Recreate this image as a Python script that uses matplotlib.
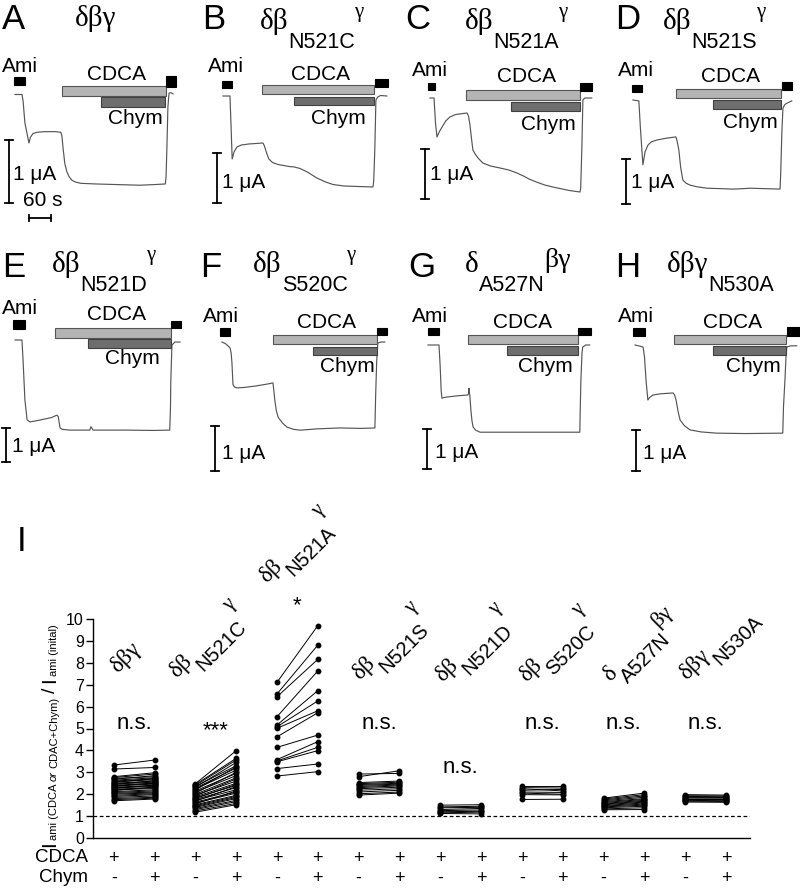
import numpy as np
import matplotlib
matplotlib.use('Agg')
import matplotlib.pyplot as plt
from matplotlib.patches import Rectangle
from matplotlib.transforms import offset_copy
from matplotlib.font_manager import FontProperties

# ---------------- data: current traces (time in s, current in uA rel. to baseline) -------------
trace_A_t = [0, 19, 22, 27, 38, 42, 49, 60, 80, 110, 125, 128, 131, 136, 141, 147, 155, 165, 180, 220, 280, 340, 380, 410, 412, 414, 417, 420, 425, 431]
trace_A_i = [0, 0, -0.10, -0.45, -0.77, -0.68, -0.62, -0.60, -0.59, -0.59, -0.60, -0.66, -0.85, -1.10, -1.22, -1.30, -1.36, -1.39, -1.41, -1.42, -1.43, -1.44, -1.43, -1.42, -1.30, -0.90, -0.20, 0.02, 0.03, 0.01]
trace_B_t = [0, 19, 22, 25, 30, 38, 50, 70, 109, 113, 118, 125, 135, 150, 165, 180, 195, 210, 230, 256, 280, 300, 330, 370, 409, 411, 414, 417, 422, 430, 447]
trace_B_i = [0, 0, -0.6, -1.26, -1.12, -1.02, -0.98, -0.96, -0.94, -1.00, -1.12, -1.26, -1.33, -1.37, -1.39, -1.41, -1.42, -1.45, -1.52, -1.64, -1.72, -1.77, -1.80, -1.81, -1.82, -1.70, -1.08, -0.08, -0.02, 0.01, 0]
trace_C_t = [0, 11, 15, 19, 25, 33, 43, 54, 70, 90, 101, 105, 109, 113, 117, 124, 131, 144, 165, 191, 215, 237, 255, 270, 290, 313, 335, 354, 380, 409, 411, 414, 417, 422, 441]
trace_C_i = [0, 0, -0.5, -0.78, -0.68, -0.58, -0.46, -0.38, -0.33, -0.31, -0.30, -0.36, -0.54, -0.80, -1.04, -1.13, -1.20, -1.30, -1.36, -1.40, -1.44, -1.50, -1.56, -1.62, -1.68, -1.74, -1.78, -1.81, -1.85, -1.88, -1.80, -1.04, -0.04, 0, 0]
trace_D_t = [0, 16, 20, 27, 33, 41, 50, 65, 90, 117, 120, 125, 130, 136, 145, 155, 175, 202, 240, 272, 300, 319, 360, 401, 403, 406, 409, 414, 420, 433]
trace_D_i = [0, -0.02, -0.6, -1.44, -1.15, -1.00, -0.93, -0.89, -0.85, -0.82, -0.90, -1.11, -1.50, -1.78, -1.85, -1.89, -1.93, -1.96, -1.97, -1.98, -1.97, -1.96, -1.97, -1.98, -1.60, -0.70, -0.18, -0.10, -0.07, -0.02]
trace_E_t = [0, 19, 22, 27, 33, 41, 70, 100, 114, 118, 120, 123, 130, 150, 204, 207, 210, 213, 300, 380, 422, 424, 425, 428, 436, 450]
trace_E_i = [0, 0, -0.6, -1.76, -2.35, -2.41, -2.35, -2.28, -2.21, -2.25, -2.40, -2.59, -2.63, -2.65, -2.65, -2.55, -2.60, -2.65, -2.65, -2.66, -2.65, -2.00, -1.18, -0.15, -0.06, -0.06]
trace_F_t = [0, 10, 22, 25, 27, 30, 34, 41, 60, 90, 120, 139, 141, 144, 148, 153, 165, 177, 195, 213, 260, 322, 380, 417, 419, 422, 425, 435, 444]
trace_F_i = [0, -0.04, -0.13, -0.25, -0.45, -0.95, -1.00, -1.02, -1.01, -0.98, -0.94, -0.91, -1.05, -1.29, -1.52, -1.67, -1.80, -1.89, -1.94, -1.96, -1.93, -1.91, -1.92, -1.91, -1.20, -0.40, -0.02, 0, 0]
trace_G_t = [0, 30, 33, 36, 38, 45, 52, 80, 109, 111, 112, 113, 114, 117, 120, 123, 130, 142, 200, 251, 330, 414, 415, 417, 420, 422, 430, 441]
trace_G_i = [0, 0, -0.5, -1.15, -1.33, -1.31, -1.30, -1.27, -1.25, -1.20, -1.08, -1.20, -1.25, -1.63, -1.90, -2.05, -2.13, -2.18, -2.18, -2.18, -2.18, -2.18, -1.70, -0.88, -0.20, -0.05, 0, 0]
trace_H_t = [0, 10, 22, 26, 30, 35, 40, 49, 70, 104, 108, 112, 117, 123, 135, 150, 180, 223, 300, 403, 405, 409, 412, 414, 425, 441]
trace_H_i = [0, -0.02, -0.05, -0.30, -0.85, -1.34, -1.28, -1.22, -1.19, -1.17, -1.22, -1.34, -1.60, -1.83, -1.97, -2.07, -2.12, -2.15, -2.16, -2.15, -1.50, -0.85, -0.25, -0.05, -0.02, -0.02]

# application periods (s): first amiloride, CDCA, chymotrypsin, second amiloride
ami1_s = {'A': (-3, 27), 'B': (-3, 25), 'C': (-5, 14), 'D': (-3, 25), 'E': (-5, 27), 'F': (-5, 22), 'G': (0, 30), 'H': (-5, 27)}
cdca_s = {'A': (128, 411), 'B': (106, 411), 'C': (98, 409), 'D': (117, 403), 'E': (109, 425), 'F': (139, 422), 'G': (109, 409), 'H': (106, 411)}
chym_s = {'A': (234, 409), 'B': (193, 411), 'C': (221, 409), 'D': (218, 403), 'E': (199, 425), 'F': (248, 422), 'G': (215, 409), 'H': (213, 411)}
ami2_s = {'A': (411, 439), 'B': (414, 450), 'C': (409, 441), 'D': (406, 433), 'E': (425, 452), 'F': (422, 450), 'G': (409, 444), 'H': (414, 450)}

# ---------------- data: panel I ----------------
group_names = ['dbg', 'N521C', 'N521A', 'N521S', 'N521D', 'S520C', 'A527N', 'N530A']
g1_cdca = [3.33, 3.15, 2.80, 2.76, 2.72, 2.68, 2.64, 2.60, 2.57, 2.53, 2.50, 2.47, 2.44, 2.41, 2.38, 2.35, 2.32, 2.29, 2.26, 2.23, 2.20, 2.16, 2.12, 2.08, 2.04, 2.00, 1.95, 1.90, 1.85, 1.80, 1.75, 1.70]
g1_chym = [3.56, 3.22, 2.98, 2.92, 2.80, 2.85, 2.75, 2.70, 2.66, 2.72, 2.60, 2.55, 2.62, 2.50, 2.46, 2.52, 2.40, 2.36, 2.42, 2.30, 2.26, 2.33, 2.20, 2.15, 2.10, 2.06, 2.02, 1.98, 1.92, 1.86, 1.82, 1.78]
g2_cdca = [2.48, 2.44, 2.40, 2.36, 2.32, 2.28, 2.24, 2.20, 2.15, 2.10, 2.05, 2.00, 1.96, 1.92, 1.88, 1.84, 1.80, 1.76, 1.72, 1.68, 1.64, 1.60, 1.56, 1.52, 1.48, 1.44, 1.40, 1.35, 1.30, 1.24, 1.18]
g2_chym = [3.99, 3.64, 3.56, 3.30, 3.45, 3.20, 3.10, 3.25, 2.95, 2.85, 3.00, 2.75, 2.60, 2.70, 2.50, 2.40, 2.45, 2.30, 2.20, 2.35, 2.10, 2.05, 2.15, 1.95, 1.90, 1.85, 1.80, 1.72, 1.66, 1.58, 1.52]
g3_cdca = [7.11, 6.58, 6.45, 5.54, 5.16, 5.08, 5.01, 4.62, 4.14, 3.58, 3.52, 3.48, 3.17, 2.83]
g3_chym = [9.70, 8.81, 8.16, 7.63, 6.73, 6.26, 5.81, 5.72, 4.70, 4.40, 4.14, 3.99, 3.38, 3.03]
g4_cdca = [2.92, 2.80, 2.53, 2.48, 2.44, 2.40, 2.35, 2.30, 2.25, 2.18, 2.10, 2.02, 1.96]
g4_chym = [2.95, 3.07, 2.60, 2.55, 2.50, 2.46, 2.42, 2.38, 2.32, 2.25, 2.18, 2.10, 2.05]
g5_cdca = [1.50, 1.42, 1.38, 1.30, 1.25, 1.20, 1.15, 1.12]
g5_chym = [1.52, 1.45, 1.40, 1.35, 1.28, 1.22, 1.18, 1.10]
g6_cdca = [2.38, 2.30, 2.25, 2.18, 2.10, 2.05, 1.98, 1.76]
g6_chym = [2.38, 2.28, 2.15, 2.22, 2.08, 2.00, 1.97, 1.77]
g7_cdca = [1.82, 1.78, 1.74, 1.70, 1.66, 1.62, 1.58, 1.55, 1.52, 1.48, 1.45, 1.42, 1.38, 1.33, 1.29]
g7_chym = [2.05, 1.98, 1.92, 1.86, 1.80, 1.76, 1.72, 1.68, 1.64, 1.60, 1.55, 1.50, 1.45, 1.38, 1.30]
g8_cdca = [1.98, 1.93, 1.90, 1.86, 1.83, 1.80, 1.78, 1.75, 1.72, 1.68, 1.64]
g8_chym = [1.96, 1.92, 1.88, 1.85, 1.82, 1.80, 1.77, 1.74, 1.70, 1.67, 1.63]
significance = ['n.s.', '***', '*', 'n.s.', 'n.s.', 'n.s.', 'n.s.', 'n.s.']
cdca_row = ['+'] * 16
chym_row = ['-', '+'] * 8
yticks_I = list(range(0, 11))

# ---------------- figure ----------------
W_PX, H_PX = 800, 889
fig = plt.figure(figsize=(8, 8.89), dpi=100)
SANS = 'Liberation Sans'
SERIF = 'Liberation Serif'
SX = 22.0 / 60.0  # px per second (time scale common to all traces)
TRACE_C = '#555555'
LBL = 15


def fpos(x, y):
    return x / W_PX, 1 - y / H_PX


def ftext(x, y, s, size=LBL, ha='left', va='center', **kw):
    fx, fy = fpos(x, y)
    fig.text(fx, fy, s, fontsize=size, ha=ha, va=va, family=kw.pop('family', SANS), **kw)


renderer = fig.canvas.get_renderer()


def text_width(s, fp):
    t = fig.text(0, 0, s, fontproperties=fp)
    w = t.get_window_extent(renderer=renderer).width
    t.remove()
    return w


def compound(x, y, parts, angle=0.0):
    th = np.deg2rad(angle)
    ux, uy = np.cos(th), np.sin(th)
    nx, ny = -np.sin(th), np.cos(th)
    fx, fy = fpos(x, y)
    adv = 0.0
    for s, size, dy, fam, style, gap in parts:
        adv += gap
        fp = FontProperties(family=fam, size=size, style=style)
        tr = offset_copy(fig.transFigure, x=adv * ux + dy * nx, y=adv * uy + dy * ny, units='dots')
        fig.text(fx, fy, s, fontproperties=fp, rotation=angle, rotation_mode='anchor',
                 ha='left', va='baseline', transform=tr)
        adv += text_width(s, fp)


def title_parts(kind, big=21, sub=15.5, sup=15, drop=19, rise=12):
    B = lambda s: (s, big, 0, SERIF, 'normal', 0)
    S = lambda s: (s, sub, -drop, SANS, 'normal', 0)
    U = lambda s: (s, sup, rise, SERIF, 'normal', -1)
    table = {
        'dbg': [B('δβγ')],
        'N521C': [B('δβ'), S('N521C'), U('γ')],
        'N521A': [B('δβ'), S('N521A'), U('γ')],
        'N521S': [B('δβ'), S('N521S'), U('γ')],
        'N521D': [B('δβ'), S('N521D'), U('γ')],
        'S520C': [B('δβ'), S('S520C'), U('γ')],
        'A527N': [B('δ'), S('A527N'), ('βγ', big * 0.95, rise * 0.45, SERIF, 'normal', 0)],
        'N530A': [B('δβγ'), S('N530A')],
    }
    return table[kind]


traces = {'A': (trace_A_t, trace_A_i), 'B': (trace_B_t, trace_B_i), 'C': (trace_C_t, trace_C_i),
          'D': (trace_D_t, trace_D_i), 'E': (trace_E_t, trace_E_i), 'F': (trace_F_t, trace_F_i),
          'G': (trace_G_t, trace_G_i), 'H': (trace_H_t, trace_H_i)}

# layout per panel (pixel positions)
layout = {
    'A': dict(kind='dbg', col=0, row=0, x0=15, y0=94.5, k=63, letter=(2, 3), title=(75, 26),
              ami=(2, 66), cdca=(117, 74), chym=(135, 118), sb=(9, 203), sbt=(13, 175),
              yb=dict(ami1=(77, 85), cdca=(86, 96), chym=(97, 107), ami2=(76, 87))),
    'B': dict(kind='N521C', col=1, row=0, x0=223, y0=96, k=50, letter=(202, 3), title=(260, 29),
              ami=(208, 66), cdca=(320, 74), chym=(338, 118), sb=(217, 203), sbt=(222, 182),
              yb=dict(ami1=(81, 88), cdca=(85, 94), chym=(97, 105), ami2=(79, 87))),
    'C': dict(kind='N521A', col=2, row=0, x0=430, y0=98, k=50, letter=(405, 3), title=(465, 29),
              ami=(412, 71), cdca=(527, 76), chym=(548, 124), sb=(425, 199), sbt=(430, 175),
              yb=dict(ami1=(83, 90), cdca=(90, 100), chym=(102, 111), ami2=(83, 91))),
    'D': dict(kind='N521S', col=3, row=0, x0=633, y0=100, k=45, letter=(615, 3), title=(663, 29),
              ami=(618, 71), cdca=(730, 76), chym=(750, 122), sb=(626, 204), sbt=(631, 183),
              yb=dict(ami1=(85, 92), cdca=(89, 98), chym=(100, 109), ami2=(82, 90))),
    'E': dict(kind='N521D', col=0, row=1, x0=15, y0=340, k=34, letter=(2, 251), title=(52, 272),
              ami=(2, 309), cdca=(117, 314), chym=(132, 359), sb=(6, 462), sbt=(12, 447),
              yb=dict(ami1=(320, 329), cdca=(328, 338), chym=(339, 348), ami2=(321, 328))),
    'F': dict(kind='S520C', col=1, row=1, x0=222, y0=342, k=45, letter=(200, 251), title=(253, 272),
              ami=(203, 316), cdca=(327, 322), chym=(347, 366), sb=(215, 471), sbt=(222, 453),
              yb=dict(ami1=(328, 336), cdca=(335, 344), chym=(347, 355), ami2=(328, 335))),
    'G': dict(kind='A527N', col=2, row=1, x0=428, y0=345, k=40, letter=(408, 251), title=(465, 272),
              ami=(412, 317), cdca=(523, 322), chym=(545, 367), sb=(427, 469), sbt=(435, 452),
              yb=dict(ami1=(328, 335), cdca=(335, 344), chym=(346, 355), ami2=(328, 335))),
    'H': dict(kind='N530A', col=3, row=1, x0=635, y0=345, k=41, letter=(615, 251), title=(667, 272),
              ami=(618, 317), cdca=(733, 322), chym=(753, 366), sb=(636, 471), sbt=(643, 453),
              yb=dict(ami1=(328, 336), cdca=(335, 344), chym=(346, 355), ami2=(327, 336))),
}

for key, L in layout.items():
    left = L['col'] * 200
    top = 60 + L['row'] * 246
    Wp, Hp = 200, 180
    ax = fig.add_axes([left / W_PX, 1 - (top + Hp) / H_PX, Wp / W_PX, Hp / H_PX])
    x0, y0, k = L['x0'], L['y0'], L['k']
    ax.set_xlim((left - x0) / SX, (left + Wp - x0) / SX)
    ax.set_ylim(-(top + Hp - y0) / k, -(top - y0) / k)
    ax.axis('off')
    to_i = lambda py: -(py - y0) / k
    t, i = traces[key]
    ax.plot(t, i, color=TRACE_C, lw=0.85, solid_joinstyle='round')
    specs = [('ami1', ami1_s[key], 'black', 'black'),
             ('cdca', cdca_s[key], '#b4b4b4', '#555555'),
             ('chym', chym_s[key], '#6e6e6e', '#404040'),
             ('ami2', ami2_s[key], 'black', 'black')]
    for name, (t0, t1), fc, ec in specs:
        pt, pb = L['yb'][name]
        ax.add_patch(Rectangle((t0, to_i(pb)), t1 - t0, to_i(pt) - to_i(pb), facecolor=fc,
                               edgecolor=ec, lw=0.8, zorder=3))
    sbx, sby = L['sb']
    ts = (sbx - x0) / SX
    ib = to_i(sby)
    cap = 4 / SX
    ax.plot([ts, ts], [ib, ib + 1.0], color='black', lw=1.3)
    ax.plot([ts - cap, ts + cap], [ib, ib], color='black', lw=1.3)
    ax.plot([ts - cap, ts + cap], [ib + 1.0, ib + 1.0], color='black', lw=1.3)
    if key == 'A':
        t60 = (29 - x0) / SX
        i60 = to_i(218)
        ax.plot([t60, t60 + 60], [i60, i60], color='black', lw=1.3)
        for tt in (t60, t60 + 60):
            ax.plot([tt, tt], [i60 - 3 / k, i60 + 3 / k], color='black', lw=1.3)
        ftext(23, 200, '60 s')
    ftext(*L['letter'], key, 25, va='top')
    compound(*L['title'], title_parts(L['kind']))
    ftext(*L['ami'], 'Ami')
    ftext(*L['cdca'], 'CDCA', ha='center')
    ftext(*L['chym'], 'Chym', ha='center')
    ftext(*L['sbt'], '1 μA')

# ---------------- panel I ----------------
axI = fig.add_axes([93 / W_PX, 1 - 838 / H_PX, (750 - 93) / W_PX, (838 - 619) / H_PX])
groups_c = [g1_cdca, g2_cdca, g3_cdca, g4_cdca, g5_cdca, g6_cdca, g7_cdca, g8_cdca]
groups_h = [g1_chym, g2_chym, g3_chym, g4_chym, g5_chym, g6_chym, g7_chym, g8_chym]
for g, (c, h) in enumerate(zip(groups_c, groups_h)):
    n = len(c)
    xs = np.vstack([np.full(n, 2 * g), np.full(n, 2 * g + 1)])
    ys = np.vstack([c, h])
    axI.plot(xs, ys, '-', color='black', lw=0.7, marker='o', ms=3.2, mfc='black', mec='black')
axI.axhline(1, color='black', lw=0.9, ls=(0, (3, 2)))
axI.set_xlim(-0.51, 15.59)
axI.set_ylim(0, 10)
axI.set_yticks(yticks_I)
axI.set_xticks([])
axI.spines['top'].set_visible(False)
axI.spines['right'].set_visible(False)
axI.spines['left'].set_linewidth(1.0)
axI.spines['bottom'].set_linewidth(1.0)
axI.tick_params(axis='y', direction='out', length=5, width=1, pad=1.5, labelsize=11.5)
for lab in axI.get_yticklabels():
    lab.set_family(SANS)

blend = axI.get_xaxis_transform()
for j in range(16):
    axI.text(j, -0.092, cdca_row[j], transform=blend, ha='center', va='center', fontsize=13, family=SANS)
    axI.text(j, -0.183, chym_row[j], transform=blend, ha='center', va='center', fontsize=13, family=SANS)
ftext(88, 858, 'CDCA', 13.5, ha='right')
ftext(88, 878, 'Chym', 13.5, ha='right')

sig_y = [5.25, 5.25, 10.95, 5.25, 3.2, 5.25, 5.25, 5.25]
for g, s in enumerate(significance):
    yy = sig_y[g] - (0.35 if s.startswith('*') else 0)
    axI.text(2 * g + 0.5, yy, s, ha='center', va='center', fontsize=16, family=SANS)

lab_anchor = [(118, 673), (177, 678), (267, 583), (360, 680), (443, 682), (527, 682), (610, 682), (687, 680)]
for g, name in enumerate(group_names):
    compound(*lab_anchor[g], title_parts(name, big=17, sub=14.5, sup=15, drop=14, rise=10), angle=45)

ftext(17, 525, 'I', 25, va='top')
ylab_parts = [('I', 15, 0, SANS, 'normal', 0),
              ('ami (CDCA', 8, -2, SANS, 'normal', 1),
              ('or', 8, -2, SANS, 'italic', 3),
              ('CDAC+Chym)', 8, -2, SANS, 'normal', 3),
              ('/', 14, 0, SANS, 'normal', 4),
              ('I', 15, 0, SANS, 'normal', 4),
              ('ami (inital)', 8, -2, SANS, 'normal', 1)]
compound(55, 847, ylab_parts, angle=90)

fig.savefig('out.png', dpi=100)
